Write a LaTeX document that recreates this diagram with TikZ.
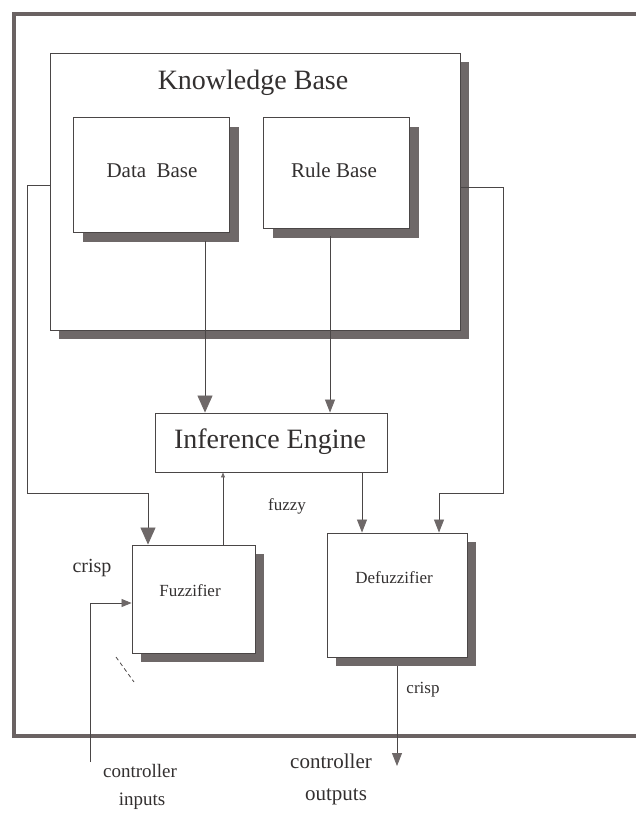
\documentclass[tikz,border=0pt]{standalone}
\usepackage{fontspec}
\setmainfont{Liberation Serif}
\usetikzlibrary{arrows.meta,shadows}
\definecolor{ln}{HTML}{4A4646}
\definecolor{shd}{HTML}{6E6868}
\definecolor{frm}{HTML}{6A6262}
\definecolor{txt}{HTML}{333030}
\begin{document}
\begin{tikzpicture}[x=1pt,y=-1pt,
  box/.style={draw=ln, line width=0.9pt, fill=white, inner sep=0pt},
  shad/.style={drop shadow={shadow xshift=#1, shadow yshift=-#1, fill=shd, opacity=1, draw=none}},
  wire/.style={draw=ln, line width=0.8pt},
  bigtip/.style={-{Triangle[length=17pt,width=15pt,color=shd]}},
  midtip/.style={-{Triangle[length=13pt,width=10pt,color=shd]}},
  smalltip/.style={-{Triangle[length=10pt,width=8pt,color=shd]}},
  tinytip/.style={-{Triangle[length=5pt,width=4pt,color=shd]}},
  lbl/.style={text=txt, anchor=base, inner sep=0pt}]
\useasboundingbox (0,0) rectangle (636,813);
\fill[white] (0,0) rectangle (636,813);
% outer frame
\draw[frm, line width=4.5pt] (660,14) -- (14,14) -- (14,736) -- (660,736);
% boxes
\node[box, shad=9pt, minimum width=410pt, minimum height=277pt] (kb) at (255,191.5) {};
\node[box, shad=10pt, minimum width=156pt, minimum height=115pt] (db) at (151,174.5) {};
\node[box, shad=10pt, minimum width=146pt, minimum height=111pt] (rb) at (336,172.5) {};
\node[box, minimum width=232pt, minimum height=59pt] (ie) at (271,442.5) {};
\node[box, shad=8.5pt, minimum width=123pt, minimum height=108pt] (fz) at (193.5,599) {};
\node[box, shad=9pt, minimum width=140pt, minimum height=124pt] (dz) at (397,595) {};
% texts
\node[lbl, font=\fontsize{28}{30}\selectfont] (kbt) at (253,90) {Knowledge Base};
\node[lbl, font=\fontsize{21}{24}\selectfont] (dbt) at (152,178) {Data\ \ Base};
\node[lbl, font=\fontsize{21}{24}\selectfont] (rbt) at (334,178) {Rule Base};
\node[lbl, font=\fontsize{28}{30}\selectfont] (iet) at (270,448) {Inference Engine};
\node[lbl, font=\fontsize{17}{20}\selectfont] (fzt) at (190,596) {Fuzzifier};
\node[lbl, font=\fontsize{17}{20}\selectfont] (dzt) at (394,583) {Defuzzifier};
\node[lbl, font=\fontsize{17}{20}\selectfont] (fuzzy) at (287,510) {fuzzy};
\node[lbl, font=\fontsize{20}{22}\selectfont] (crispa) at (92,572) {crisp};
\node[lbl, font=\fontsize{17}{20}\selectfont] (crispb) at (423,693) {crisp};
\node[lbl, font=\fontsize{19}{22}\selectfont] (cin) at (140,777) {controller};
\node[lbl, font=\fontsize{19}{22}\selectfont] (cin2) at (142,805) {inputs};
\node[lbl, font=\fontsize{21}{24}\selectfont] (cout) at (331,768) {controller};
\node[lbl, font=\fontsize{21}{24}\selectfont] (cout2) at (336,800) {outputs};
% connectors
\draw[wire, bigtip] (kb.west |- 0,185) -- (27,185) -- (27,493) -- (148,493) -- (fz.north -| 148,0);
\draw[wire, midtip] (kb.east |- 0,187) -- (503,187) -- (503,493) -- (439,493) -- (dz.north -| 439,0);
\draw[wire, bigtip] (205,241) -- (ie.north -| 205,0);
\draw[wire, midtip] (330,236) -- (ie.north -| 330,0);
\draw[wire, tinytip] (fz.north -| 223,0) -- (ie.south -| 223,0);
\draw[wire, midtip] (ie.south -| 362,0) -- (dz.north -| 362,0);
\coordinate (inp) at (90,762);
\draw[wire, smalltip] (inp) -- (90,603) -- (fz.west |- 0,603);
\coordinate (outp) at (397,766);
\draw[wire, midtip] (397,666) -- (outp);
% small stray mark
\draw[ln, line width=0.8pt, dash pattern=on 4pt off 3pt] (116,657) -- (134,682);
\end{tikzpicture}
\end{document}
